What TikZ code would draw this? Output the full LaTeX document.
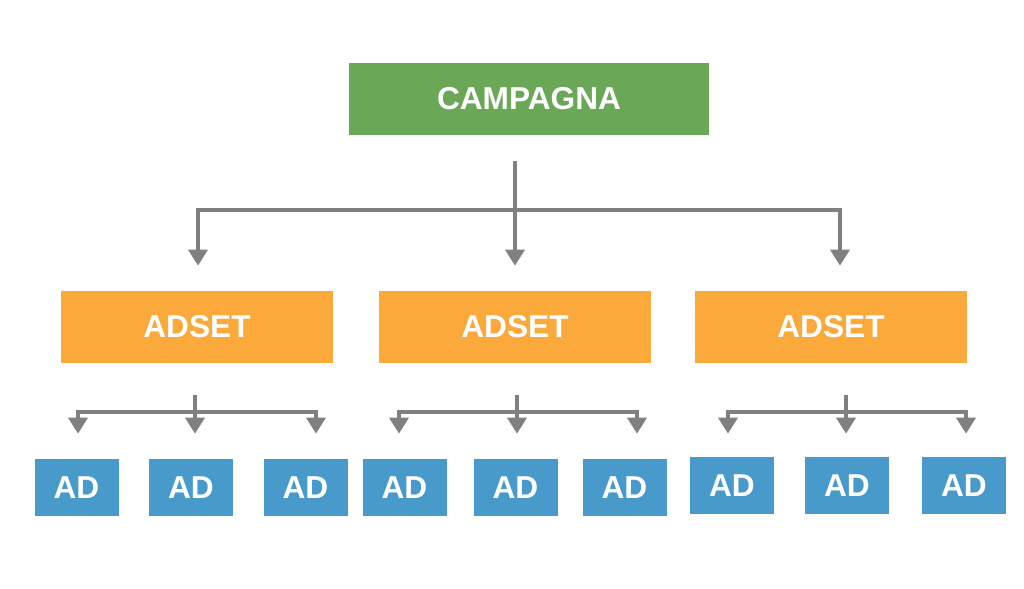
\documentclass[tikz,border=0pt]{standalone}
\usepackage{fontspec}
\setmainfont{Liberation Sans}
\usetikzlibrary{arrows.meta, calc}

\definecolor{campgreen}{RGB}{106,168,87}
\definecolor{setorange}{RGB}{250,169,58}
\definecolor{adblue}{RGB}{72,154,202}
\definecolor{linkgray}{RGB}{128,128,128}

\begin{document}
\begin{tikzpicture}[
  >={Triangle[width=0.38cm,length=0.32cm]},
  link/.style={
    draw=linkgray,
    line width=2.1pt
  },
  box/.style={
    rectangle,
    inner sep=0pt,
    text=white,
    font=\fontsize{18}{18}\selectfont\bfseries
  },
  campaign/.style={box, fill=campgreen, minimum width=7.2cm, minimum height=1.44cm},
  adset/.style={box, fill=setorange, minimum width=5.44cm, minimum height=1.44cm},
  ad/.style={box, fill=adblue, minimum width=1.68cm, minimum height=1.14cm}
]

% --- Canvas ---
\useasboundingbox (0, 0) rectangle (20.48, 11.78);

% --- Blocks ---
\node[campaign] (camp) at (10.58, 9.80) {CAMPAGNA};

\node[adset] (set1) at (3.94, 5.24)  {ADSET};
\node[adset] (set2) at (10.30, 5.24) {ADSET};
\node[adset] (set3) at (16.62, 5.24) {ADSET};

\node[ad] (ad11) at (1.53, 2.03)  {AD};
\node[ad] (ad12) at (3.82, 2.03)  {AD};
\node[ad] (ad13) at (6.11, 2.03)  {AD};
\node[ad] (ad21) at (8.09, 2.03)  {AD};
\node[ad] (ad22) at (10.31, 2.03) {AD};
\node[ad] (ad23) at (12.49, 2.03) {AD};
\node[ad] (ad31) at (14.64, 2.07) {AD};
\node[ad] (ad32) at (16.94, 2.07) {AD};
\node[ad] (ad33) at (19.28, 2.07) {AD};

% --- Campaign -> adsets ---
\coordinate (cTop) at ([xshift=-0.28cm, yshift=-0.52cm]camp.south);  % stem start
\coordinate (cBar) at ([yshift=-0.98cm]cTop);                        % junction on the bar

\draw[link, ->] (cTop) -- ([yshift=0.5cm]set2.north);
\draw[link, ->] (cBar) -| ([xshift=0.02cm, yshift=0.5cm]set1.north);
\draw[link, ->] (cBar) -| ([xshift=0.18cm, yshift=0.5cm]set3.north);

% --- Adset 1 -> ads ---
\coordinate (aTop) at ([xshift=-0.04cm, yshift=-0.64cm]set1.south);
\coordinate (aBar) at ([yshift=-0.34cm]aTop);
\draw[link, ->] (aTop) -- ([yshift=0.5cm]aTop |- ad12.north);
\draw[link, ->] (aBar) -| ([xshift=0.03cm, yshift=0.5cm]ad11.north);
\draw[link, ->] (aBar) -| ([xshift=0.21cm, yshift=0.5cm]ad13.north);

% --- Adset 2 -> ads ---
\coordinate (bTop) at ([xshift=0.04cm, yshift=-0.64cm]set2.south);
\coordinate (bBar) at ([yshift=-0.34cm]bTop);
\draw[link, ->] (bTop) -- ([yshift=0.5cm]bTop |- ad22.north);
\draw[link, ->] (bBar) -| ([xshift=-0.11cm, yshift=0.5cm]ad21.north);
\draw[link, ->] (bBar) -| ([xshift=0.25cm, yshift=0.5cm]ad23.north);

% --- Adset 3 -> ads ---
\coordinate (dTop) at ([xshift=0.30cm, yshift=-0.64cm]set3.south);
\coordinate (dBar) at ([yshift=-0.34cm]dTop);
\draw[link, ->] (dTop) -- ([yshift=0.46cm]dTop |- ad32.north);
\draw[link, ->] (dBar) -| ([xshift=-0.08cm, yshift=0.46cm]ad31.north);
\draw[link, ->] (dBar) -| ([xshift=0.04cm, yshift=0.46cm]ad33.north);

\end{tikzpicture}
\end{document}
